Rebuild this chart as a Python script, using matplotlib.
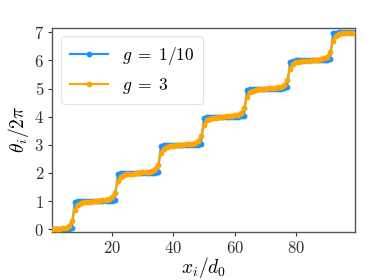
import matplotlib
matplotlib.use("Agg")
import matplotlib.pyplot as plt
from matplotlib.ticker import FuncFormatter, FixedLocator

plt.rcParams['mathtext.fontset'] = 'cm'
plt.rcParams['font.family'] = ['DejaVu Serif']

x_pos = list(range(1, 99))

theta_g_small = [
    0, 0, 0, 0, 0.005, 0.01, 0.04,
    0.96, 0.99, 1, 1, 1, 1, 1, 1, 1, 1, 1, 1, 1.01, 1.04,
    1.96, 1.99, 2, 2, 2, 2, 2, 2, 2, 2, 2, 2, 2.01, 2.04,
    2.96, 2.99, 3, 3, 3, 3, 3, 3, 3, 3, 3, 3, 3.01, 3.04,
    3.96, 3.99, 4, 4, 4, 4, 4, 4, 4, 4, 4, 4, 4.01, 4.04,
    4.96, 4.99, 5, 5, 5, 5, 5, 5, 5, 5, 5, 5, 5.01, 5.04,
    5.96, 5.99, 6, 6, 6, 6, 6, 6, 6, 6, 6, 6, 6.01, 6.04,
    6.96, 6.99, 7, 7, 7, 7, 7,
]

theta_g_large = [
    0.01, 0.015, 0.02, 0.035, 0.06, 0.13, 0.30,
    0.70, 0.87, 0.93, 0.955, 0.97, 0.98, 0.99, 1.01, 1.02, 1.03, 1.045, 1.07, 1.13, 1.30,
    1.70, 1.87, 1.93, 1.955, 1.97, 1.98, 1.99, 2.01, 2.02, 2.03, 2.045, 2.07, 2.13, 2.30,
    2.70, 2.87, 2.93, 2.955, 2.97, 2.98, 2.99, 3.01, 3.02, 3.03, 3.045, 3.07, 3.13, 3.30,
    3.70, 3.87, 3.93, 3.955, 3.97, 3.98, 3.99, 4.01, 4.02, 4.03, 4.045, 4.07, 4.13, 4.30,
    4.70, 4.87, 4.93, 4.955, 4.97, 4.98, 4.99, 5.01, 5.02, 5.03, 5.045, 5.07, 5.13, 5.30,
    5.70, 5.87, 5.93, 5.955, 5.97, 5.98, 5.99, 6.01, 6.02, 6.03, 6.045, 6.07, 6.13, 6.30,
    6.70, 6.87, 6.94, 6.965, 6.98, 6.985, 6.99,
]

labels = [r'$g\;=\;1/10$', r'$g\;=\;3$']
x_ticks = [20, 40, 60, 80]
y_ticks = [0, 1, 2, 3, 4, 5, 6, 7]

fig = plt.figure(figsize=(3.74, 2.8), dpi=100)
ax = fig.add_axes([0.14, 0.1725, 0.81, 0.7285])

ax.plot(x_pos, theta_g_small, '-o', color='#1E90FF', lw=1.5, ms=3.2, label=labels[0], zorder=2)
ax.plot(x_pos, theta_g_large, '-o', color='#FFA500', lw=1.5, ms=3.2, label=labels[1], zorder=3)

ax.set_xlim(0.7, 99.2)
ax.set_ylim(-0.085, 7.16)
ax.xaxis.set_major_locator(FixedLocator(x_ticks))
ax.yaxis.set_major_locator(FixedLocator(y_ticks))
fmt = FuncFormatter(lambda v, p: r'$%d$' % int(round(v)))
ax.xaxis.set_major_formatter(fmt)
ax.yaxis.set_major_formatter(fmt)
ax.tick_params(labelsize=12, length=3, width=0.8, pad=3, colors='#333333')

for s in ax.spines.values():
    s.set_color('#555555')
    s.set_linewidth(1.0)

ax.set_xlabel(r'$x_i/d_0$', fontsize=14, labelpad=-1.5)
ax.set_ylabel(r'$\theta_i/2\pi$', fontsize=14, labelpad=2)

leg = ax.legend(loc='upper left', fontsize=12.5, numpoints=1, handlelength=2.2,
                frameon=True, fancybox=True, borderpad=0.5, labelspacing=0.5)
leg.get_frame().set_edgecolor('#dddddd')
leg.get_frame().set_linewidth(0.8)

fig.savefig('out.png', dpi=100)
